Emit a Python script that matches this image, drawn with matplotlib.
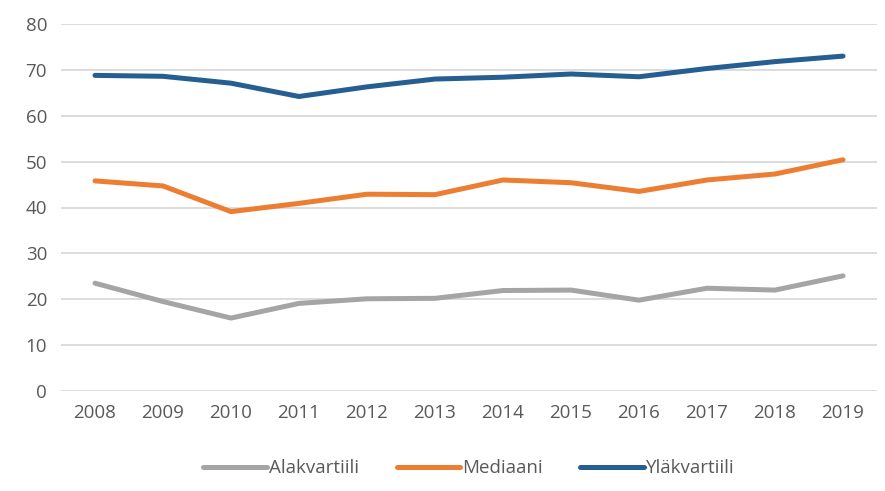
import numpy as np
import matplotlib.pyplot as plt

plt.rcParams['font.family'] = ['Open Sans', 'DejaVu Sans']

years = ['2008', '2009', '2010', '2011', '2012', '2013',
         '2014', '2015', '2016', '2017', '2018', '2019']
alakvartiili = [23.5, 19.5, 15.9, 19.1, 20.1, 20.2, 21.9, 22.0, 19.8, 22.4, 22.0, 25.1]
mediaani = [45.8, 44.7, 39.1, 40.9, 42.9, 42.8, 46.0, 45.4, 43.5, 46.0, 47.3, 50.4]
ylakvartiili = [68.8, 68.6, 67.1, 64.2, 66.3, 68.0, 68.4, 69.1, 68.5, 70.3, 71.8, 73.0]

fig = plt.figure(figsize=(8.85, 4.91), dpi=100)
ax = fig.add_axes([61/885, 1-391/491, (877-61)/885, (391-24)/491])

x = np.arange(len(years))
ax.plot(x, alakvartiili, color='#A5A5A5', lw=3.6, label='Alakvartiili', solid_capstyle='round')
ax.plot(x, mediaani, color='#ED7D31', lw=3.6, label='Mediaani', solid_capstyle='round')
ax.plot(x, ylakvartiili, color='#255E91', lw=3.6, label='Yläkvartiili', solid_capstyle='round')

ax.set_xlim(-0.5, len(years)-0.5)
ax.set_ylim(0, 80)
ax.set_yticks(range(0, 81, 10))
ax.set_xticks(x)
ax.set_xticklabels(years)
ax.grid(axis='y', color='#D9D9D9', lw=1.3)
ax.set_axisbelow(True)
for s in ax.spines.values():
    s.set_visible(False)
ax.tick_params(length=0, labelsize=13.5, labelcolor='#595959')
ax.tick_params(axis='y', pad=10)
ax.tick_params(axis='x', pad=9)

ax.legend(loc='upper center', bbox_to_anchor=(0.5, -0.14), ncol=3, frameon=False,
          fontsize=13.5, labelcolor='#595959', handlelength=3.4, handletextpad=0.1,
          columnspacing=2.0)

fig.savefig('out.png', dpi=100)
